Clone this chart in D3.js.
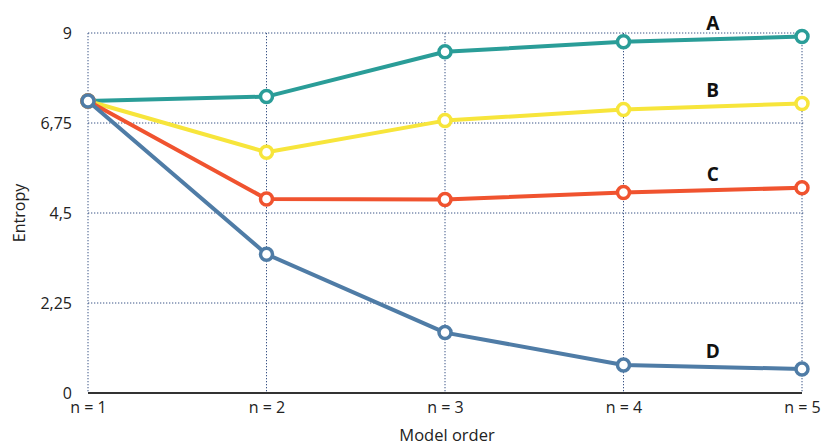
<!DOCTYPE html>
<html><head><meta charset="utf-8">
<script src="https://cdn.jsdelivr.net/npm/d3@7"></script>
<style>body{margin:0;background:#fff}svg{display:block}</style>
</head><body>
<script>
const categories = ["n = 1","n = 2","n = 3","n = 4","n = 5"];
const seriesNames = ["A","B","C","D"];
const seriesA = [7.3, 7.41, 8.53, 8.78, 8.91];
const seriesB = [7.3, 6.02, 6.81, 7.09, 7.24];
const seriesC = [7.3, 4.85, 4.84, 5.01, 5.13];
const seriesD = [7.3, 3.47, 1.51, 0.70, 0.60];
const yTicks = [0, 2.25, 4.5, 6.75, 9];
const yTickLabels = ["0","2,25","4,5","6,75","9"];
const colors = ["#2a9d98","#f7e53b","#f0532f","#4f7ca6"];

const W = 823, H = 445;
const m = {left: 88, right: 21, top: 33, bottom: 52};
const svg = d3.select("body").append("svg").attr("width", W).attr("height", H);
const x = d3.scalePoint().domain(categories).range([m.left, W - m.right]);
const y = d3.scaleLinear().domain([0, 9]).range([H - m.bottom, m.top]);
const font = "'Open Sans', 'Noto Sans', sans-serif";

// grid
const grid = svg.append("g").attr("stroke", "#3b5486").attr("stroke-width", 1).attr("stroke-dasharray", "1.3,1.7");
grid.selectAll("line.h").data(yTicks.filter(d => d > 0)).join("line")
  .attr("x1", m.left).attr("x2", W - m.right + 3)
  .attr("y1", d => y(d)).attr("y2", d => y(d));
grid.selectAll("line.v").data(categories).join("line")
  .attr("x1", d => x(d)).attr("x2", d => x(d))
  .attr("y1", y(9)).attr("y2", y(0));

// x axis baseline
svg.append("line").attr("x1", m.left).attr("x2", W - m.right)
  .attr("y1", y(0)).attr("y2", y(0)).attr("stroke", "#333").attr("stroke-width", 2);

// axis labels
const yAxis = d3.axisLeft(y).tickValues(yTicks).tickFormat((d, i) => yTickLabels[i]).tickSize(0).tickPadding(16);
const ya = svg.append("g").attr("transform", `translate(${m.left},0)`).call(yAxis);
ya.select(".domain").remove();
ya.selectAll("text").attr("font-family", font).attr("font-size", 16).attr("fill", "#222");

const xAxis = d3.axisBottom(x).tickSize(0).tickPadding(9);
const xa = svg.append("g").attr("transform", `translate(0,${y(0)})`).call(xAxis);
xa.select(".domain").remove();
xa.selectAll("text").attr("font-family", font).attr("font-size", 16).attr("fill", "#222");

svg.append("text").attr("x", (x(categories[0]) + x(categories[4])) / 2 + 2).attr("y", 441)
  .attr("text-anchor", "middle").attr("font-family", font).attr("font-size", 16.5).attr("fill", "#222")
  .text("Model order");
svg.append("text").attr("transform", `translate(25,${y(4.5)}) rotate(-90)`)
  .attr("text-anchor", "middle").attr("font-family", font).attr("font-size", 16).attr("fill", "#222")
  .text("Entropy");

// series
const allSeries = [seriesA, seriesB, seriesC, seriesD];
const line = d3.line().x((d, i) => x(categories[i])).y(d => y(d));
allSeries.forEach((s, k) => {
  const g = svg.append("g");
  g.append("path").datum(s).attr("d", line).attr("fill", "none")
    .attr("stroke", colors[k]).attr("stroke-width", 4).attr("stroke-linejoin", "round");
  g.selectAll("circle").data(s).join("circle")
    .attr("cx", (d, i) => x(categories[i])).attr("cy", d => y(d)).attr("r", 6)
    .attr("fill", "#fff").attr("stroke", colors[k]).attr("stroke-width", 3.5);
  const mid = (y(s[3]) + y(s[4])) / 2;
  g.append("text").attr("x", (x(categories[3]) + x(categories[4])) / 2).attr("y", mid - 16)
    .attr("dy", "0.35em").attr("text-anchor", "middle")
    .attr("font-family", font).attr("font-weight", "bold").attr("font-size", 19).attr("fill", "#111")
    .text(seriesNames[k]);
});
</script>
</body></html>
